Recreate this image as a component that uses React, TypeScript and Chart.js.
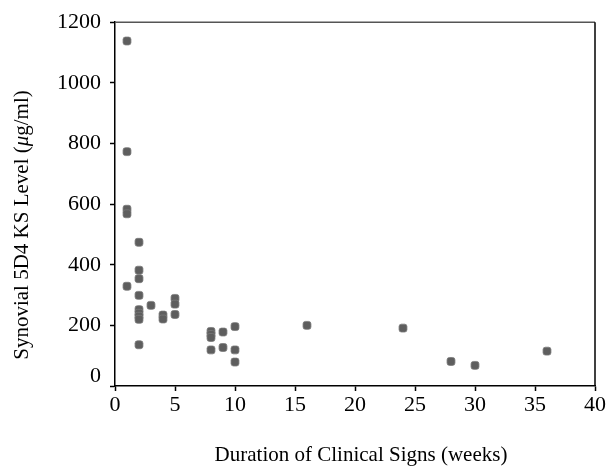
import React, { useEffect, useRef } from 'react';
import { Chart, registerables } from 'chart.js';

Chart.register(...registerables);

// Duration of clinical signs (weeks) and synovial 5D4 KS level (µg/ml), one entry per case
const durationWeeks = [
  1, 1, 1, 1, 1,
  2, 2, 2, 2, 2, 2, 2, 2, 2,
  3,
  4, 4,
  5, 5, 5,
  8, 8, 8, 8,
  9, 9,
  10, 10, 10,
  16, 24, 28, 30, 36,
];
const ksLevel = [
  1138, 773, 583, 568, 329,
  474, 382, 354, 299, 252, 240, 230, 220, 136,
  266,
  234, 221,
  289, 270, 236,
  180, 170, 160, 119,
  178, 127,
  196, 119, 79,
  200, 191, 81, 68, 115,
];
const xTickValues = [0, 5, 10, 15, 20, 25, 30, 35, 40];
const yTickValues = [0, 200, 400, 600, 800, 1000, 1200];

const xTitle = 'Duration of Clinical Signs (weeks)';
const yTitleParts = [
  { text: 'Synovial 5D4 KS Level (', italic: false },
  { text: '\u03BC', italic: true },
  { text: 'g/ml)', italic: false },
];

const FONT = '"Liberation Serif", "Times New Roman", serif';
const TICK_SIZE = 22;
const TITLE_SIZE = 21;

const framePlugin = {
  id: 'frame',
  afterDraw(chart: any) {
    const { ctx, chartArea } = chart;
    const { left, right, top, bottom } = chartArea;
    ctx.save();
    ctx.lineWidth = 1.5;
    ctx.strokeStyle = '#555';
    ctx.beginPath();
    ctx.moveTo(left, top);
    ctx.lineTo(right, top);
    ctx.stroke();
    ctx.strokeStyle = '#000';
    ctx.beginPath();
    ctx.moveTo(right, top);
    ctx.lineTo(right, bottom);
    ctx.stroke();

    ctx.fillStyle = '#000';
    // the zero label on the y axis sits a little above its tick
    const y0 = chart.scales.y.getPixelForValue(yTickValues[0]);
    ctx.font = TICK_SIZE + 'px ' + FONT;
    ctx.textAlign = 'right';
    ctx.textBaseline = 'middle';
    ctx.fillText(String(yTickValues[0]), left - 14, y0 - 10);

    // x axis title
    ctx.font = TITLE_SIZE + 'px ' + FONT;
    ctx.textAlign = 'center';
    ctx.textBaseline = 'middle';
    ctx.fillText(xTitle, (left + right) / 2 + 6, 455);

    // y axis title (rotated, italic mu)
    const fonts = yTitleParts.map((p) => (p.italic ? 'italic ' : '') + TITLE_SIZE + 'px ' + FONT);
    const widths = yTitleParts.map((p, i) => {
      ctx.font = fonts[i];
      return ctx.measureText(p.text).width;
    });
    const total = widths.reduce((a, b) => a + b, 0);
    ctx.translate(22, 225);
    ctx.rotate(-Math.PI / 2);
    ctx.textAlign = 'left';
    let x = -total / 2;
    yTitleParts.forEach((p, i) => {
      ctx.font = fonts[i];
      ctx.fillText(p.text, x, 0);
      x += widths[i];
    });
    ctx.restore();
  },
};

export default function App() {
  const ref = useRef<HTMLCanvasElement>(null);

  useEffect(() => {
    if (!ref.current) return;
    const points = durationWeeks.map((x, i) => ({ x, y: ksLevel[i] }));
    const chart = new Chart(ref.current, {
      type: 'scatter',
      data: {
        datasets: [
          {
            data: points,
            pointStyle: 'rectRounded',
            pointRadius: 4.6,
            pointHoverRadius: 4.6,
            backgroundColor: '#5e5e5e',
            borderColor: '#7a7a7a',
            borderWidth: 0.8,
          },
        ],
      },
      options: {
        responsive: false,
        animation: false,
        layout: { padding: { top: 19, right: 12, left: 0, bottom: 0 } },
        plugins: {
          legend: { display: false },
          tooltip: { enabled: false },
        },
        scales: {
          x: {
            type: 'linear',
            min: 0,
            max: 40,
            afterBuildTicks: (s: any) => {
              s.ticks = xTickValues.map((v) => ({ value: v }));
            },
            afterFit: (s: any) => {
              s.height = 84;
            },
            ticks: {
              color: '#000',
              font: { family: FONT, size: TICK_SIZE },
              padding: 1,
              maxRotation: 0,
            },
            grid: {
              drawOnChartArea: false,
              color: '#000',
              tickLength: 5,
              tickWidth: 1.5,
            },
            border: { color: '#000', width: 1.5 },
          },
          y: {
            type: 'linear',
            min: 0,
            max: 1200,
            afterBuildTicks: (s: any) => {
              s.ticks = yTickValues.map((v) => ({ value: v }));
            },
            afterFit: (s: any) => {
              s.width = 115;
            },
            ticks: {
              color: '#000',
              font: { family: FONT, size: TICK_SIZE },
              padding: 9,
              callback: (v: any) => (v === yTickValues[0] ? '' : String(v)),
            },
            grid: {
              drawOnChartArea: false,
              color: '#000',
              tickLength: 5,
              tickWidth: 1.5,
            },
            border: { color: '#000', width: 1.5 },
          },
        },
      },
      plugins: [framePlugin],
    } as any);
    return () => chart.destroy();
  }, []);

  return (
    <div style={{ position: 'absolute', left: 0, top: 0, width: 607, height: 470, background: '#fff' }}>
      <canvas ref={ref} width={607} height={470} />
    </div>
  );
}
